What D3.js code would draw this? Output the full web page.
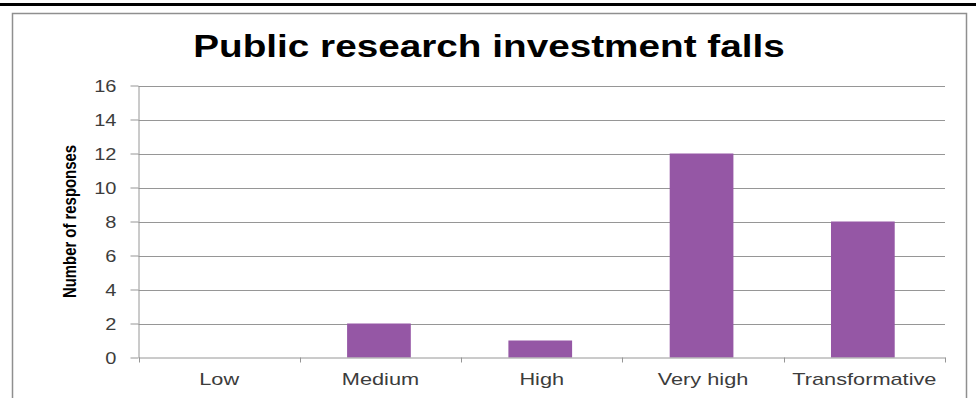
<!DOCTYPE html>
<html>
<head>
<meta charset="utf-8">
<script src="https://cdn.jsdelivr.net/npm/d3@7"></script>
<style>
  html, body { margin: 0; padding: 0; background: #fff; }
  svg { display: block; }
  text { font-family: "Liberation Sans", Arial, sans-serif; }
</style>
</head>
<body>
<svg id="chart" width="976" height="398"></svg>
<script>
// Survey responses per impact level
const categories = ["Low", "Medium", "High", "Very high", "Transformative"];
const responses = [0, 2, 1, 12, 8];
const yTicks = [0, 2, 4, 6, 8, 10, 12, 14, 16];
const title = "Public research investment falls";
const yTitle = "Number of responses";

const W = 976, H = 398;
const plot = { left: 138.5, right: 945, top: 85.5, bottom: 357.5 };
const stretch = 1.25; // horizontal text stretch
const barColor = "#9557a5";
const gridColor = "#969696";
const labelColor = "#3c3c3c";

const svg = d3.select("#chart");

// top rule and outer frame
svg.append("rect").attr("x", 0).attr("y", 3).attr("width", W).attr("height", 3).attr("fill", "#000");
svg.append("rect")
  .attr("x", 12.5).attr("y", 13.5).attr("width", 954).attr("height", H)
  .attr("fill", "none").attr("stroke", "#8f8f8f").attr("stroke-width", 1.5);

const x = d3.scaleBand().domain(categories).range([plot.left, plot.right]).padding(0);
const y = d3.scaleLinear().domain([0, 16]).range([plot.bottom, plot.top]);

// horizontal gridlines
svg.append("g").selectAll("line").data(yTicks.filter(t => t > 0)).join("line")
  .attr("x1", plot.left).attr("x2", plot.right)
  .attr("y1", d => Math.round(y(d)) + 0.5).attr("y2", d => Math.round(y(d)) + 0.5)
  .attr("stroke", gridColor).attr("stroke-width", 1);

// bars
const barW = x.bandwidth() * 0.395;
svg.append("g").selectAll("rect").data(categories).join("rect")
  .attr("x", (d) => x(d) + x.bandwidth() / 2 - barW / 2 - 1.5)
  .attr("width", barW)
  .attr("y", (d, i) => y(responses[i]))
  .attr("height", (d, i) => y(0) - y(responses[i]))
  .attr("fill", barColor);

// y axis
const yAxis = svg.append("g").attr("transform", `translate(${plot.left},0)`)
  .call(d3.axisLeft(y).tickValues(yTicks).tickSize(8).tickSizeOuter(0).tickFormat(d3.format("d")));
yAxis.select(".domain").attr("stroke", gridColor);
yAxis.selectAll(".tick line").attr("stroke", gridColor);
yAxis.selectAll(".tick text").remove();
yAxis.selectAll(".tick").append("text")
  .attr("transform", `translate(-22,0) scale(${stretch},1)`)
  .attr("text-anchor", "end").attr("dy", "0.35em")
  .attr("fill", labelColor).attr("font-size", 16)
  .text(d => d);

// x axis
const xAxis = svg.append("g").attr("transform", `translate(0,${plot.bottom})`)
  .call(d3.axisBottom(x).tickSize(0).tickSizeOuter(0));
xAxis.select(".domain").attr("stroke", gridColor);
xAxis.selectAll(".tick text").remove();
xAxis.selectAll(".tick").append("text")
  .attr("transform", `translate(0,27.5) scale(1.28,1)`)
  .attr("text-anchor", "middle")
  .attr("fill", labelColor).attr("font-size", 17)
  .text(d => d);
// category boundary ticks
const bounds = categories.map(c => x(c)).concat([plot.right]);
svg.append("g").selectAll("line").data(bounds).join("line")
  .attr("x1", d => Math.round(d) + 0.5).attr("x2", d => Math.round(d) + 0.5)
  .attr("y1", plot.bottom).attr("y2", plot.bottom + 5)
  .attr("stroke", gridColor);

// title
svg.append("text")
  .attr("transform", `translate(489,56.5) scale(1.21,1)`)
  .attr("text-anchor", "middle")
  .attr("font-size", 32).attr("font-weight", "bold").attr("fill", "#000")
  .text(title);

// y axis title
svg.append("text")
  .attr("transform", `translate(75.5,${(plot.top + plot.bottom) / 2}) rotate(-90)`)
  .attr("text-anchor", "middle")
  .attr("font-size", 17.5).attr("font-weight", "bold").attr("fill", "#000")
  .attr("textLength", 153).attr("lengthAdjust", "spacingAndGlyphs")
  .text(yTitle);
</script>
</body>
</html>
